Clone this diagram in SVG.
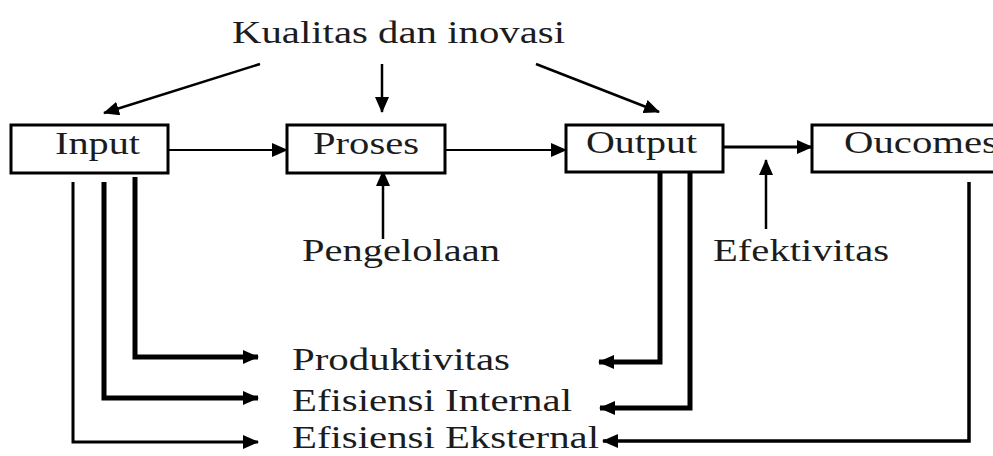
<svg xmlns="http://www.w3.org/2000/svg" width="993" height="456" viewBox="0 0 993 456">
<defs>
<marker id="ah" markerUnits="userSpaceOnUse" markerWidth="16" markerHeight="14" refX="15" refY="7" orient="auto">
<path d="M0,0 L16,7 L0,14 Z" fill="#000"/>
</marker>
</defs>
<style>
.box{fill:#fff;stroke:#000;stroke-width:3}
.t{font-family:"Liberation Serif","Times New Roman",serif;font-size:31px;fill:#1c1c1c}
.c{fill:none;stroke:#000;stroke-linejoin:miter}
</style>
<rect width="993" height="456" fill="#fff"/>
<g id="connectors">
<line class="c" x1="260" y1="64" x2="104" y2="113" stroke-width="2.5" marker-end="url(#ah)"/>
<line class="c" x1="382" y1="64" x2="382" y2="112" stroke-width="2.5" marker-end="url(#ah)"/>
<line class="c" x1="536" y1="64" x2="659" y2="112" stroke-width="2.5" marker-end="url(#ah)"/>
<line class="c" x1="168" y1="150" x2="287" y2="150" stroke-width="2" marker-end="url(#ah)"/>
<line class="c" x1="445" y1="150" x2="566" y2="150" stroke-width="2" marker-end="url(#ah)"/>
<line class="c" x1="723" y1="147" x2="812" y2="147" stroke-width="3" marker-end="url(#ah)"/>
<line class="c" x1="383" y1="239" x2="383" y2="171" stroke-width="2.5" marker-end="url(#ah)"/>
<line class="c" x1="766" y1="229" x2="766" y2="160" stroke-width="2.5" marker-end="url(#ah)"/>
<path class="c" d="M135,177 V357 H258" stroke-width="5" marker-end="url(#ah)"/>
<path class="c" d="M104,182 V398 H258" stroke-width="5" marker-end="url(#ah)"/>
<path class="c" d="M73,182 V442 H258" stroke-width="3" marker-end="url(#ah)"/>
<path class="c" d="M660,172 V362 H599" stroke-width="5" marker-end="url(#ah)"/>
<path class="c" d="M690,172 V408 H600" stroke-width="5" marker-end="url(#ah)"/>
<path class="c" d="M969,182 V441 H603" stroke-width="3.5" marker-end="url(#ah)"/>
</g>
<g id="kualitas"><text class="t" x="232" y="43" textLength="333" lengthAdjust="spacingAndGlyphs">Kualitas dan inovasi</text></g>
<g id="input"><rect class="box" x="11" y="125" width="157" height="48"/><text class="t" x="55" y="154" textLength="85" lengthAdjust="spacingAndGlyphs">Input</text></g>
<g id="proses"><rect class="box" x="287" y="125" width="158" height="48"/><text class="t" x="313" y="154" textLength="106" lengthAdjust="spacingAndGlyphs">Proses</text></g>
<g id="output"><rect class="box" x="566" y="125" width="157" height="47"/><text class="t" x="586" y="153" textLength="111" lengthAdjust="spacingAndGlyphs">Output</text></g>
<g id="oucomes"><rect class="box" x="812" y="125" width="200" height="47"/><text class="t" x="844" y="153" textLength="154" lengthAdjust="spacingAndGlyphs">Oucomes</text></g>
<g id="pengelolaan"><text class="t" x="302" y="261" textLength="198" lengthAdjust="spacingAndGlyphs">Pengelolaan</text></g>
<g id="efektivitas"><text class="t" x="713" y="261" textLength="176" lengthAdjust="spacingAndGlyphs">Efektivitas</text></g>
<g id="produktivitas"><text class="t" x="292" y="370" textLength="218" lengthAdjust="spacingAndGlyphs">Produktivitas</text></g>
<g id="efisiensi-internal"><text class="t" x="292" y="411" textLength="280" lengthAdjust="spacingAndGlyphs">Efisiensi Internal</text></g>
<g id="efisiensi-eksternal"><text class="t" x="292" y="448" textLength="307" lengthAdjust="spacingAndGlyphs">Efisiensi Eksternal</text></g>
</svg>
